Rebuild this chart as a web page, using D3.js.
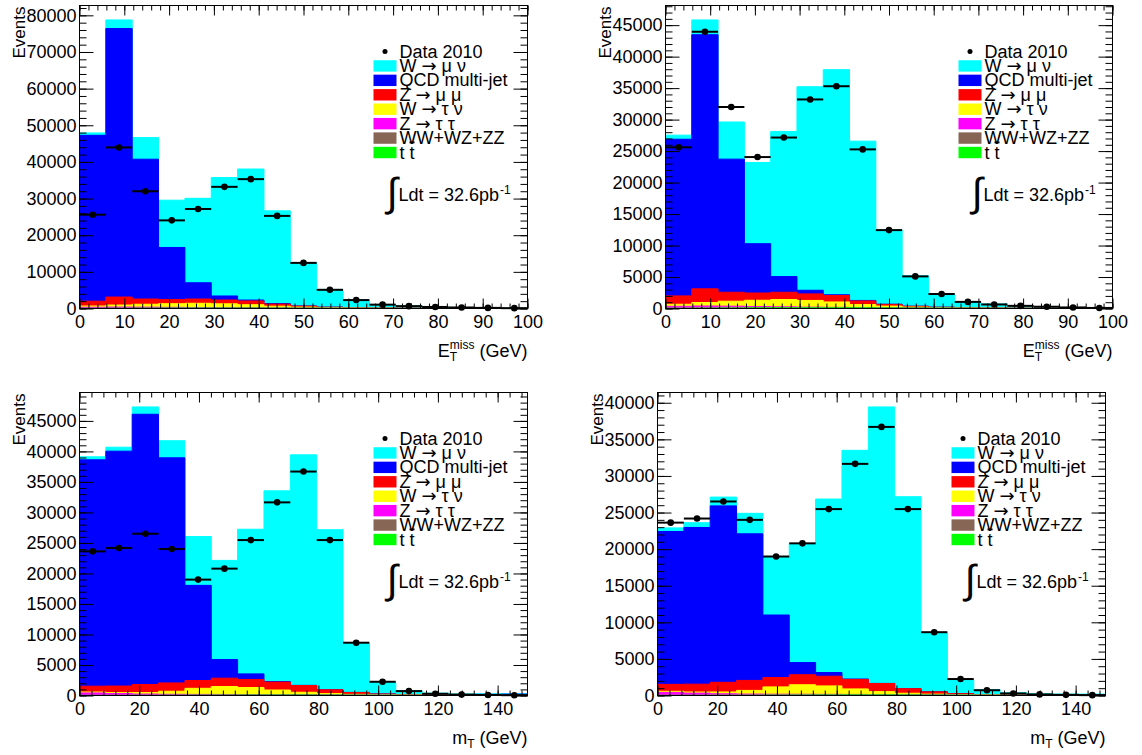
<!DOCTYPE html>
<html>
<head>
<meta charset="utf-8">
<script src="https://cdn.jsdelivr.net/npm/d3@7"></script>
<style>
  body { margin: 0; background: #fff; }
  svg { display: block; }
</style>
</head>
<body>
<svg width="1142" height="755"></svg>
<script>
// 17 bins per histogram: MET 0-100 GeV, mT 0-150 GeV
const nBins = 17;

// ---- missing ET ----
const metData     = [25600, 43950, 32000, 24050, 27150, 33200, 35300, 25270, 12450, 5100, 2300, 1050, 640, 420, 280, 170, 90];
const metWmunu    = [650, 2350, 5900, 12900, 23050, 32330, 35750, 25300, 11800, 4830, 2100, 960, 640, 370, 230, 140, 90];
const metQcdA     = [45260, 73270, 38160, 14190, 4440, 1100, 250, 150, 40, 20, 10, 5, 3, 2, 1, 1, 1];
const metQcdB     = [24880, 40350, 21140, 7830, 2490, 580, 120, 80, 25, 12, 6, 3, 2, 1, 1, 1, 1];
const metZmumu    = [1325, 2180, 1420, 1150, 1155, 1040, 1020, 570, 270, 130, 60, 30, 15, 10, 5, 3, 2];
const metWtaunu   = [330, 550, 790, 1000, 1160, 1060, 850, 470, 250, 120, 60, 30, 15, 8, 5, 3, 2];
const metZtautau  = [300, 330, 280, 200, 140, 90, 60, 40, 25, 15, 10, 5, 3, 2, 1, 1, 1];
const metDiboson  = [5, 8, 10, 12, 15, 18, 20, 20, 18, 15, 12, 10, 8, 6, 5, 4, 3];
const metTtbar    = [40, 60, 80, 100, 110, 110, 110, 100, 90, 75, 60, 45, 35, 25, 20, 15, 10];

// ---- transverse mass ----
const mtData      = [23620, 24180, 26510, 24000, 18990, 20790, 25470, 31650, 36700, 25470, 8650, 2250, 720, 280, 150, 90, 50];
const mtWmunu     = [490, 650, 1200, 2800, 8000, 16250, 23700, 31250, 37780, 26230, 8050, 1880, 670, 300, 150, 90, 60];
const mtQcdA      = [37100, 38490, 44290, 36890, 15590, 3050, 910, 90, 20, 10, 5, 5, 5, 10, 60, 150, 200];
const mtQcdB      = [20890, 21410, 24110, 20030, 8540, 1660, 510, 50, 10, 5, 3, 3, 3, 5, 30, 80, 110];
const mtZmumu     = [950, 1070, 1315, 1365, 1280, 1370, 1320, 1300, 1110, 620, 310, 140, 55, 30, 10, 5, 2];
const mtWtaunu    = [150, 150, 250, 500, 1000, 1300, 1150, 750, 400, 200, 100, 40, 20, 10, 5, 3, 2];
const mtZtautau   = [400, 300, 200, 150, 120, 100, 80, 60, 40, 25, 15, 10, 5, 3, 2, 1, 1];
const mtDiboson   = [3, 4, 5, 6, 8, 10, 12, 14, 15, 15, 14, 12, 10, 8, 7, 6, 5];
const mtTtbar     = [20, 25, 30, 40, 50, 60, 70, 75, 75, 70, 60, 50, 40, 30, 25, 20, 15];

// stacking order, bottom first
const layerKeys = ["ttbar", "diboson", "ztautau", "wtaunu", "zmumu", "qcd", "wmunu"];
const layerColors = {
  wmunu: "#00ffff", qcd: "#0000ff", zmumu: "#ff0000", wtaunu: "#ffff00",
  ztautau: "#ff00ff", diboson: "#876656", ttbar: "#00ff00"
};
// legend order, top first; each label split into plain / symbol pieces
const legendKeys = ["wmunu", "qcd", "zmumu", "wtaunu", "ztautau", "diboson", "ttbar"];
const legendLabels = [
  ["W ", "\u2192", " \u03bc \u03bd"],
  ["QCD multi-jet"],
  ["Z ", "\u2192", " \u03bc \u03bc"],
  ["W ", "\u2192", " \u03c4 \u03bd"],
  ["Z ", "\u2192", " \u03c4 \u03c4"],
  ["WW+WZ+ZZ"],
  ["t ", "tbar"]
];
const dataLabel = "Data 2010";
const lumiLabel = "Ldt = 32.6pb";

const fontFamily = "'Liberation Sans', Arial, Helvetica, sans-serif";
const symbolFont = "'DejaVu Sans', sans-serif";
const svg = d3.select("svg").attr("font-family", fontFamily);

function main() {
  let metSet = { ttbar: metTtbar, diboson: metDiboson, ztautau: metZtautau, wtaunu: metWtaunu, zmumu: metZmumu, wmunu: metWmunu };
  let mtSet = { ttbar: mtTtbar, diboson: mtDiboson, ztautau: mtZtautau, wtaunu: mtWtaunu, zmumu: mtZmumu, wmunu: mtWmunu };

  drawPanel({ left: 79.5, top: 5.5, right: 527.5, bottom: 308.5, xMax: 100, xMajor: 10, xMinor: 2, yMajor: 10000, yMinor: 2000,
    mc: Object.assign({ qcd: metQcdA }, metSet), data: metData, title: "met" });
  drawPanel({ left: 665.5, top: 5.5, right: 1112.5, bottom: 308.5, xMax: 100, xMajor: 10, xMinor: 2, yMajor: 5000, yMinor: 1000,
    mc: Object.assign({ qcd: metQcdB }, metSet), data: metData, title: "met" });
  drawPanel({ left: 79.5, top: 392.5, right: 527.5, bottom: 695.5, xMax: 150, xMajor: 20, xMinor: 4, yMajor: 5000, yMinor: 1000,
    mc: Object.assign({ qcd: mtQcdA }, mtSet), data: mtData, title: "mt" });
  drawPanel({ left: 657.5, top: 392.5, right: 1105.5, bottom: 695.5, xMax: 150, xMajor: 20, xMinor: 4, yMajor: 5000, yMinor: 1000,
    mc: Object.assign({ qcd: mtQcdB }, mtSet), data: mtData, title: "mt" });
}

function drawPanel(p) {
  let w = p.right - p.left, h = p.bottom - p.top;
  let g = svg.append("g").attr("transform", "translate(" + p.left + "," + p.top + ")");

  let edges = d3.range(nBins + 1).map(i => i * p.xMax / nBins);
  let rows = d3.range(nBins).map(i => {
    let r = {};
    layerKeys.forEach(k => { r[k] = p.mc[k][i]; });
    return r;
  });
  let series = d3.stack().keys(layerKeys)(rows);
  let totals = series[series.length - 1].map(d => d[1]);

  let x = d3.scaleLinear().domain([0, p.xMax]).range([0, w]);
  let y = d3.scaleLinear().domain([0, 1.05 * d3.max(totals)]).range([h, 0]);

  let area = d3.area()
    .curve(d3.curveStepAfter)
    .x((d, i) => x(edges[i]))
    .y0(h)
    .y1(d => y(d));

  // ROOT-style stack: largest cumulative first, smaller ones painted over it
  series.slice().reverse().forEach(s => {
    let tops = s.map(d => d[1]);
    tops.push(tops[tops.length - 1]);
    g.append("path")
      .datum(tops)
      .attr("d", area)
      .attr("fill", layerColors[s.key])
      .attr("stroke", layerColors[s.key])
      .attr("stroke-width", 1);
  });

  // data points with bin-width bars
  let pts = g.append("g");
  pts.selectAll("line")
    .data(p.data)
    .enter()
    .append("line")
    .attr("x1", (d, i) => x(edges[i]))
    .attr("x2", (d, i) => x(edges[i + 1]))
    .attr("y1", d => y(d))
    .attr("y2", d => y(d))
    .attr("stroke", "#000")
    .attr("stroke-width", 2);
  pts.selectAll("circle")
    .data(p.data)
    .enter()
    .append("circle")
    .attr("cx", (d, i) => x((edges[i] + edges[i + 1]) / 2))
    .attr("cy", d => y(d))
    .attr("r", 3.3)
    .attr("fill", "#000");

  // axes, ticks pointing inward on all four sides
  let yTop = y.domain()[1];
  let yMaj = d3.range(0, yTop + 1e-6, p.yMajor);
  let yMin = d3.range(0, yTop + 1e-6, p.yMinor);
  let xMaj = d3.range(0, p.xMax + 1e-6, p.xMajor);
  let xMin = d3.range(0, p.xMax + 1e-6, p.xMinor);

  function clean(sel) {
    sel.select(".domain").remove();
    sel.attr("font-family", fontFamily).attr("font-size", 18);
    sel.selectAll("text").attr("fill", "#000");
  }

  g.append("g").call(d3.axisLeft(y).tickValues(yMin).tickSize(-7).tickFormat("")).call(clean);
  g.append("g").call(d3.axisLeft(y).tickValues(yMaj).tickSize(-14).tickPadding(3).tickFormat(d3.format("d"))).call(clean);
  g.append("g").attr("transform", "translate(" + w + ",0)")
    .call(d3.axisRight(y).tickValues(yMin).tickSize(-7).tickFormat("")).call(clean);
  g.append("g").attr("transform", "translate(" + w + ",0)")
    .call(d3.axisRight(y).tickValues(yMaj).tickSize(-14).tickFormat("")).call(clean);

  g.append("g").attr("transform", "translate(0," + h + ")")
    .call(d3.axisBottom(x).tickValues(xMin).tickSize(-5).tickFormat("")).call(clean);
  g.append("g").attr("transform", "translate(0," + h + ")")
    .call(d3.axisBottom(x).tickValues(xMaj).tickSize(-10).tickPadding(7).tickFormat(d3.format("d"))).call(clean);
  g.append("g").call(d3.axisTop(x).tickValues(xMin).tickSize(-5).tickFormat("")).call(clean);
  g.append("g").call(d3.axisTop(x).tickValues(xMaj).tickSize(-10).tickFormat("")).call(clean);

  g.append("rect")
    .attr("width", w)
    .attr("height", h)
    .attr("fill", "none")
    .attr("stroke", "#000")
    .attr("stroke-width", 1);

  // y title
  g.append("text")
    .attr("transform", "translate(-55,1) rotate(-90)")
    .attr("text-anchor", "end")
    .attr("font-size", 17)
    .text("Events");

  // x title
  let base = h + 48;
  let unit = g.append("text").attr("x", w).attr("y", base).attr("text-anchor", "end").attr("font-size", 18).text("(GeV)");
  let xs = w - unit.node().getComputedTextLength() - 5;
  let sub = g.append("text").attr("font-size", 12).attr("y", base + 4).text("T");
  let scriptW = sub.node().getComputedTextLength();
  let sup = null;
  if (p.title == "met") {
    sup = g.append("text").attr("font-size", 12).attr("y", base - 8).text("miss");
    scriptW = Math.max(scriptW, sup.node().getComputedTextLength());
  }
  let start = xs - scriptW;
  sub.attr("x", start);
  if (sup) sup.attr("x", start);
  g.append("text").attr("x", start).attr("y", base).attr("text-anchor", "end").attr("font-size", 18)
    .text(p.title == "met" ? "E" : "m");

  // legend
  let lx = w - 154;
  let rowY = i => 46 + i * 14.43;
  let leg = g.append("g");
  leg.append("circle").attr("cx", lx + 11.5).attr("cy", rowY(0)).attr("r", 2.5).attr("fill", "#000");
  leg.append("text").attr("x", lx + 26).attr("y", rowY(0) + 6).attr("font-size", 18).text(dataLabel);
  legendKeys.forEach((k, i) => {
    leg.append("rect")
      .attr("x", lx)
      .attr("y", rowY(i + 1) - 5.7)
      .attr("width", 23)
      .attr("height", 11.4)
      .attr("fill", layerColors[k]);
    let t = leg.append("text")
      .attr("x", lx + 26)
      .attr("y", rowY(i + 1) + 6)
      .attr("font-size", 18);
    legendLabels[i].forEach(part => {
      if (part == "tbar") {
        t.append("tspan").text("t").style("text-decoration", "overline");
      } else {
        let ts = t.append("tspan").text(part);
        if (part == "\u2192") ts.attr("font-family", symbolFont);
      }
    });
  });

  // luminosity
  let lumi = g.append("g");
  lumi.append("text")
    .attr("x", w - 141)
    .attr("y", 200)
    .attr("font-family", symbolFont)
    .attr("font-size", 40)
    .attr("font-weight", 300)
    .text("\u222b");
  let lt = lumi.append("text").attr("x", w - 129).attr("y", 195).attr("font-size", 18).text(lumiLabel);
  lumi.append("text")
    .attr("x", w - 129 + lt.node().getComputedTextLength() + 1)
    .attr("y", 188)
    .attr("font-size", 12)
    .text("-1");
}

main();
</script>
</body>
</html>
